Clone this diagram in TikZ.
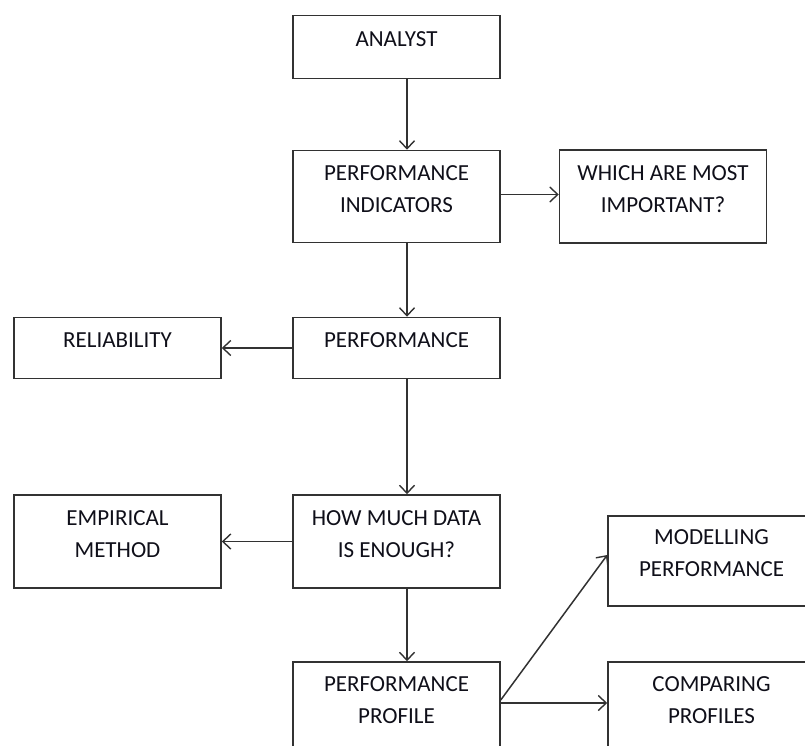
\documentclass[tikz,border=0pt]{standalone}
\usepackage{fontspec}
\setmainfont{Carlito}
\usetikzlibrary{arrows.meta}
\definecolor{boxline}{RGB}{50,50,50}
\definecolor{boxtext}{RGB}{15,15,25}

\tikzset{
  stage/.style={draw=boxline, line width=1.5pt, minimum width=207pt, minimum height=#1,
    inner sep=0pt, align=center, text depth=15pt, text=boxtext,
    font=\fontsize{23}{32}\selectfont},
  stage/.default=60pt,
  flow/.style={draw=boxline, line width=1.5pt,
    -{Straight Barb[length=8pt,width=15pt,line width=1.4pt]}}
}

\begin{document}
\begin{tikzpicture}[x=1pt, y=-1pt]

        \clip (0,0) rectangle (805,746);

        % main column
        \node[stage=63pt] (analyst) at (396.5, 47) {ANALYST};
        \node[stage=92pt] (indic) at (396.5, 196.5) {PERFORMANCE\\INDICATORS};
        \node[stage=61pt] (perf) at (396.5, 348) {PERFORMANCE};
        \node[stage=93pt] (enough) at (396.5, 541.5) {HOW MUCH DATA\\IS ENOUGH?};
        \node[stage=92pt] (profile) at (396.5, 708) {PERFORMANCE\\PROFILE};

        % side boxes
        \node[stage=93pt] (important) at (663, 196.5) {WHICH ARE MOST\\IMPORTANT?};
        \node[stage=61pt] (reliab) at (117.5, 348) {RELIABILITY};
        \node[stage=93pt] (empir) at (117.5, 541.5) {EMPIRICAL\\METHOD};
        \node[stage=90pt] (model) at (711.5, 561) {MODELLING\\PERFORMANCE};
        \node[stage=92pt] (compare) at (711.5, 708) {COMPARING\\PROFILES};

        % connectors
        \draw[flow] ([xshift=10.5pt]analyst.south) -- ([xshift=10.5pt]indic.north);
        \draw[flow] ([xshift=10.5pt]indic.south) -- ([xshift=10.5pt]perf.north);
        \draw[flow] ([xshift=10.5pt]perf.south) -- ([xshift=10.5pt]enough.north);
        \draw[flow] ([xshift=10.5pt]enough.south) -- ([xshift=10.5pt]profile.north);

        \draw[flow] ([yshift=2pt]indic.east) -- ([yshift=2pt]important.west);
        \draw[flow] (perf.west) -- (reliab.east);
        \draw[flow] (enough.west) -- (empir.east);
        \draw[flow] ([yshift=8pt]profile.east) -- ([yshift=6pt]model.west);
        \draw[flow] ([yshift=5pt]profile.east) -- ([yshift=5pt]compare.west);

\end{tikzpicture}
\end{document}
